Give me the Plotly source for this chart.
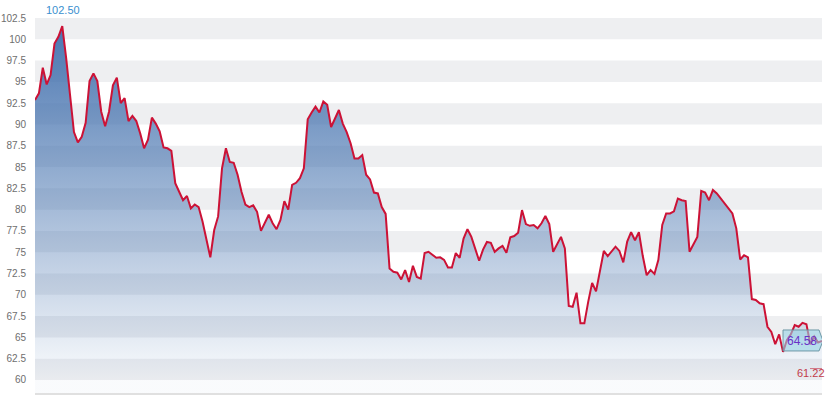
import plotly.graph_objects as go

# ---- data -------------------------------------------------------------
prices = [
    92.86, 93.65, 96.66, 94.7, 95.8, 99.5, 100.3, 101.55, 97.8, 93.0,
    89.1, 87.9, 88.55, 90.2, 95.1, 96.0, 95.1, 91.5, 89.8, 91.5,
    94.6, 95.5, 92.5, 93.1, 90.4, 91.0, 90.4, 88.95, 87.2, 88.2,
    90.8, 90.1, 89.2, 87.3, 87.2, 86.9, 83.1, 82.1, 81.1, 81.6,
    80.15, 80.6, 80.3, 78.6, 76.5, 74.4, 77.6, 79.2, 84.85, 87.2,
    85.6, 85.5, 84.1, 82.1, 80.6, 80.3, 80.5, 79.75, 77.5, 78.4,
    79.4, 78.4, 77.7, 78.8, 81.0, 80.0, 82.9, 83.15, 83.7, 84.85,
    90.6, 91.4, 92.1, 91.4, 92.7, 92.3, 89.7, 90.7, 91.7, 90.1,
    89.1, 87.8, 86.0, 86.0, 86.4, 84.1, 83.55, 82.0, 81.9, 80.3,
    79.5, 73.1, 72.7, 72.6, 71.8, 72.9, 71.5, 73.4, 72.1, 71.9,
    74.9, 75.05, 74.7, 74.35, 74.4, 74.1, 73.2, 73.2, 74.9, 74.35,
    76.6, 77.7, 76.8, 75.3, 74.0, 75.3, 76.2, 76.1, 75.05, 75.45,
    75.75, 74.95, 76.75, 76.9, 77.3, 79.95, 78.3, 78.1, 78.2, 77.8,
    78.4, 79.25, 78.3, 75.05, 75.9, 76.8, 75.45, 68.7, 68.6, 70.25,
    66.65, 66.65, 69.2, 71.4, 70.4, 72.9, 75.15, 74.55, 75.15, 75.65,
    75.15, 73.8, 76.25, 77.35, 76.4, 77.35, 74.55, 72.3, 72.9, 72.45,
    74.1, 78.2, 79.55, 79.55, 79.8, 81.3, 81.1, 81.0, 75.05, 75.85,
    76.8, 82.2, 82.0, 81.1, 82.3, 81.9, 81.3, 80.7, 80.1, 79.55,
    77.8, 74.15, 74.65, 74.4, 69.5, 69.4, 69.0, 68.9, 66.25, 65.65,
    64.2, 65.35, 63.3, 64.7, 65.36, 66.45, 66.25, 66.7, 66.55, 64.2,
    65.1, 64.4, 64.58,
]

y_tick_values = [60, 62.5, 65, 67.5, 70, 72.5, 75, 77.5, 80, 82.5,
                 85, 87.5, 90, 92.5, 95, 97.5, 100, 102.5]
y_tick_labels = ["60", "62.5", "65", "67.5", "70", "72.5", "75", "77.5", "80", "82.5",
                 "85", "87.5", "90", "92.5", "95", "97.5", "100", "102.5"]

high_value = 102.50
high_label = "102.50"
low_value = 61.22
low_label = "61.22"
last_label = "64.58"

# ---- figure -----------------------------------------------------------
days = list(range(len(prices)))
n = len(prices)
last_idx = n - 1
max_idx = prices.index(max(prices))

fig = go.Figure()

fig.add_trace(go.Scatter(
    x=days, y=prices, mode="lines",
    line=dict(color="#cc1236", width=2),
    fill="tozeroy",
    fillgradient=dict(
        type="vertical", start=60, stop=102.5,
        colorscale=[[0, "rgba(70,115,175,0.03)"], [1, "rgba(70,115,175,1.0)"]],
    ),
    hoverinfo="skip", showlegend=False,
))

shapes = []
# alternating horizontal bands
for lo in y_tick_values[:-1:2]:
    shapes.append(dict(type="rect", xref="paper", yref="y", x0=0, x1=1,
                       y0=lo, y1=lo + 2.5, fillcolor="#eeeff1",
                       line=dict(width=0), layer="below"))

# high marker underline
shapes.append(dict(type="line", xref="x", yref="y", xsizemode="pixel", ysizemode="pixel",
                   xanchor=max_idx, yanchor=high_value, x0=-7, x1=7, y0=2, y1=2,
                   line=dict(color="#79b0da", width=1.5)))
# low marker overline
shapes.append(dict(type="line", xref="x", yref="y", xsizemode="pixel", ysizemode="pixel",
                   xanchor=last_idx, yanchor=low_value, x0=-12, x1=2, y0=1, y1=1,
                   line=dict(color="#d07080", width=1)))
# last value tag
shapes.append(dict(type="path", xref="x", yref="y", xsizemode="pixel", ysizemode="pixel",
                   xanchor=last_idx, yanchor=prices[-1],
                   path="M -39 -10 L -3 -10 L 1 0 L -3 11 L -39 11 Z",
                   fillcolor="rgba(150,208,230,0.6)",
                   line=dict(color="rgba(100,145,160,0.9)", width=1), layer="above"))

annotations = [
    dict(x=max_idx, y=high_value, xref="x", yref="y", text=high_label, showarrow=False,
         yanchor="bottom", yshift=0, xshift=1,
         font=dict(family="Arial", size=11, color="#3a8fcf")),
    dict(x=last_idx, y=low_value, xref="x", yref="y", text=low_label, showarrow=False,
         xanchor="right", yanchor="top", xshift=5, yshift=5,
         font=dict(family="Arial", size=11, color="#c23b4a")),
    dict(x=last_idx, y=prices[-1], xref="x", yref="y", text=last_label, showarrow=False,
         xanchor="center", yanchor="middle", xshift=-20, yshift=0,
         font=dict(family="Arial", size=12, color="#6a30c8")),
]

fig.update_layout(
    width=830, height=401,
    margin=dict(l=35, r=8, t=18, b=8),
    paper_bgcolor="white", plot_bgcolor="white",
    shapes=shapes, annotations=annotations,
    showlegend=False,
    xaxis=dict(range=[0, last_idx], showgrid=False, zeroline=False,
               showticklabels=False, ticks="", showline=True, automargin=False,
               linecolor="#e0e0e0", linewidth=2, fixedrange=True),
    yaxis=dict(range=[58.47, 102.5], tickvals=y_tick_values, ticktext=y_tick_labels,
               showgrid=False, zeroline=False, ticks="", showline=False, automargin=False,
               tickfont=dict(family="Arial", size=10, color="#6e6e6e"),
               ticklabelstandoff=8, fixedrange=True),
)

fig.write_html(
    "out.html",
    config={"displayModeBar": False},
    post_script="document.body.style.margin='0';document.body.style.overflow='hidden';",
)
